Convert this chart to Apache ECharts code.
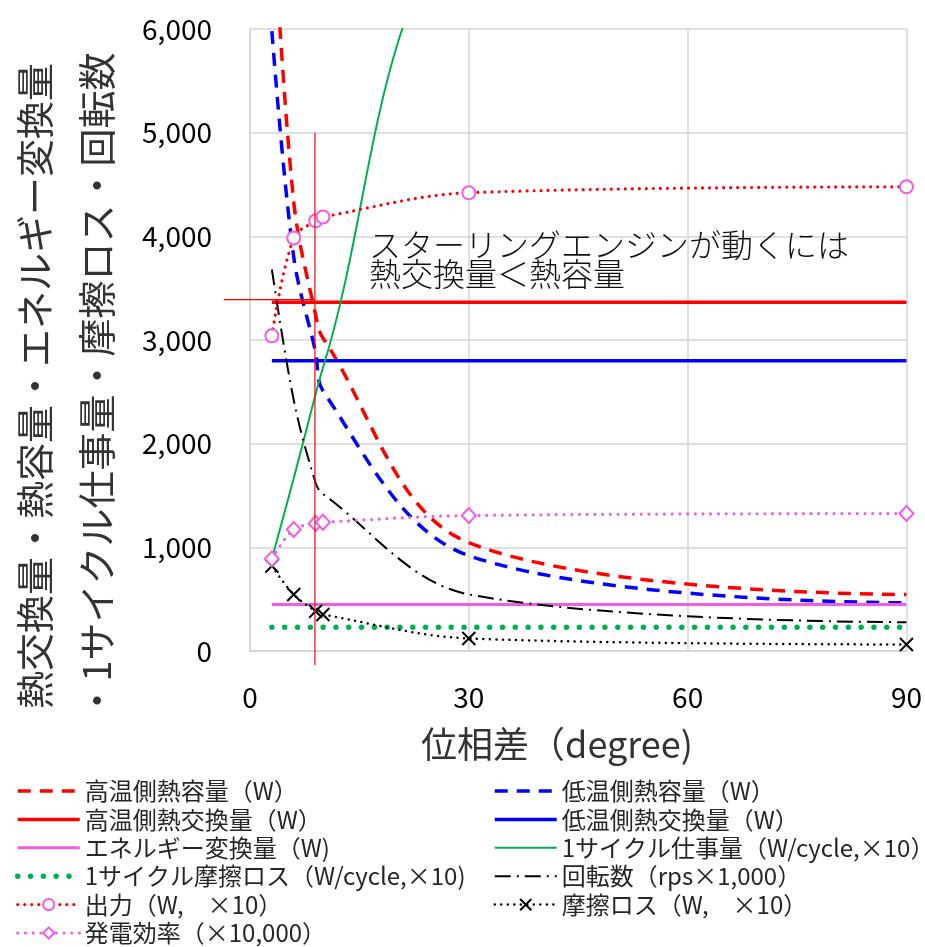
<!DOCTYPE html>
<html><head><meta charset="utf-8">
<script src="https://cdn.jsdelivr.net/npm/echarts@6/dist/echarts.min.js"></script>
<style>html,body{margin:0;padding:0;background:#fff}#c{width:925px;height:947px}</style>
</head><body><div id="c"></div>
<script>
// ---- data ----
const phaseDeg = [3, 6, 9, 10, 30, 90];
const highCapacity = [7300, 4330, 3240, 3020, 1045, 545];
const lowCapacity = [5980, 3800, 2880, 2510, 920, 465];
const highExchange = [3365, 3365, 3365, 3365, 3365, 3365];
const lowExchange = [2800, 2800, 2800, 2800, 2800, 2800];
const energyConv = [448, 448, 448, 448, 448, 448];
const workPerCycle = [889, 1666, 2478, 2731, 7250, 10000];
const frictionPerCycle = [230, 230, 230, 230, 230, 230];
const rotation = [3680, 2420, 1620, 1515, 546, 278];
const outputPower = [3040, 3985, 4150, 4187, 4420, 4478];
const frictionLoss = [820, 545, 384, 352, 121, 63];
const efficiency = [889, 1172, 1230, 1242, 1307, 1326];
// guide lines
const guideVX = [8.9, 8.9];
const guideVY = [-135, 5000];
const guideHX = [-3.6, 8.9];
const guideHY = [3390, 3390];
const xTicks = [0, 30, 60, 90];
const yTicks = [0, 1000, 2000, 3000, 4000, 5000, 6000];

const names = {
  hc: '高温側熱容量（W）', lc: '低温側熱容量（W）',
  he: '高温側熱交換量（W）', le: '低温側熱交換量（W）',
  ec: 'エネルギー変換量（W)', wk: '1サイクル仕事量（W/cycle,×10）',
  fc: '1サイクル摩擦ロス（W/cycle,×10)', rt: '回転数（rps×1,000）',
  op: '出力（W,　×10）', fl: '摩擦ロス（W,　×10）',
  ef: '発電効率（×10,000）'
};

const zip = (xs, ys) => xs.map((x, i) => [x, ys[i]]);
const FONT = '"Noto Sans CJK JP", "Noto Sans", sans-serif';
const PINK = '#F15CE0';
const SM = 0.35;
const HIDE = { color: 'rgba(0,0,0,0)', borderColor: 'rgba(0,0,0,0)', borderWidth: 0 };

const styles = {};
function line(key, ys, color, width, type, extra) {
  const ls = { color, width, type, cap: (Array.isArray(type) && type[0] < 1) ? 'round' : 'butt' };
  styles[key] = ls;
  return Object.assign({
    name: names[key], type: 'line', data: zip(phaseDeg, ys), smooth: SM,
    symbol: 'none', lineStyle: ls,
    itemStyle: { color }, z: 3, animation: false
  }, extra || {});
}

const markerStyle = {
  op: { color: '#FFFFFF', borderColor: PINK, borderWidth: 2 },
  fl: { color: 'rgba(0,0,0,0)', borderColor: '#000000', borderWidth: 2 },
  ef: { color: '#FFFFFF', borderColor: PINK, borderWidth: 2 }
};

const series = [
  line('hc', highCapacity, '#FF0000', 3.5, [13, 9]),
  line('lc', lowCapacity, '#0000FF', 3.5, [13, 9]),
  line('he', highExchange, '#FF0000', 3.5, 'solid', { smooth: false }),
  line('le', lowExchange, '#0000FF', 3.5, 'solid', { smooth: false }),
  line('ec', energyConv, PINK, 3, 'solid', { smooth: false }),
  line('wk', workPerCycle, '#00B050', 2, 'solid'),
  line('fc', frictionPerCycle, '#00B050', 5.5, [0.01, 12.8], { smooth: false }),
  line('rt', rotation, '#000000', 2, [16, 6, 2, 6]),
  line('op', outputPower, '#FF0000', 3.2, [0.01, 7], {
    symbol: 'circle', symbolSize: 13, showSymbol: true, itemStyle: markerStyle.op, z: 5 }),
  line('fl', frictionLoss, '#000000', 2.5, [0.01, 6.5], {
    symbol: 'path://M0,0L10,10M10,0L0,10', symbolSize: 13, showSymbol: true, itemStyle: markerStyle.fl, z: 5 }),
  line('ef', efficiency, PINK, 3.2, [0.01, 7.7], {
    symbol: 'diamond', symbolSize: [14, 15], showSymbol: true, itemStyle: markerStyle.ef, z: 5 }),
  { type: 'line', data: zip(guideVX, guideVY), symbol: 'none', clip: false, silent: true,
    lineStyle: { color: '#FF0000', width: 1.2 }, z: 6, animation: false }
];

function legendItem(key) {
  return { name: names[key], lineStyle: Object.assign({}, styles[key]),
    itemStyle: markerStyle[key] || HIDE };
}
const legendText = { fontFamily: FONT, fontSize: 24, color: '#262626', lineHeight: 24 };
const legendBase = { orient: 'vertical', top: 779, height: 200, padding: 0, itemWidth: 62, itemHeight: 14,
  itemGap: 4.4, textStyle: legendText, selectedMode: false };

const option = {
  backgroundColor: '#fff',
  animation: false,
  grid: { left: 250, right: 14, top: 29, bottom: 296, containLabel: false },
  xAxis: {
    type: 'value', min: 0, max: 90, interval: 30,
    axisLine: { show: true, onZero: false, lineStyle: { color: '#D4D4D4', width: 1.5 } },
    axisTick: { show: false },
    splitLine: { show: true, lineStyle: { color: '#D4D4D4', width: 1.5 } },
    axisLabel: { fontFamily: FONT, fontSize: 28, color: '#000', margin: 32,
      formatter: v => xTicks.includes(v) ? String(v) : '' }
  },
  yAxis: {
    type: 'value', min: 0, max: 6000, interval: 1000,
    axisLine: { show: true, lineStyle: { color: '#D4D4D4', width: 1.5 } },
    axisTick: { show: false },
    splitLine: { show: true, lineStyle: { color: '#D4D4D4', width: 1.5 } },
    axisLabel: { fontFamily: FONT, fontSize: 28, color: '#000', margin: 38,
      formatter: v => yTicks.includes(v) ? v.toLocaleString('en-US') : '' }
  },
  legend: [
    Object.assign({ left: 15, data: ['hc', 'he', 'ec', 'fc', 'op', 'ef'].map(legendItem) }, legendBase),
    Object.assign({ left: 493, data: ['lc', 'le', 'wk', 'rt', 'fl'].map(legendItem) }, legendBase)
  ],
  series
};
const chart = echarts.init(document.getElementById('c'), null, { renderer: 'canvas' });
chart.setOption(option);

// annotations; the horizontal guide is placed through the chart's own scales
const h0 = chart.convertToPixel({ gridIndex: 0 }, [guideHX[0], guideHY[0]]);
const h1 = chart.convertToPixel({ gridIndex: 0 }, [guideHX[1], guideHY[1]]);
chart.setOption({
  graphic: [
    { type: 'line', z: 20, shape: { x1: h0[0], y1: h0[1], x2: h1[0], y2: h1[1] },
      style: { stroke: '#FF0000', lineWidth: 1.2 } },
    { type: 'text', x: 35, y: 386, rotation: Math.PI / 2,
      style: { text: '熱交換量・熱容量・エネルギー変換量', font: '38px ' + FONT, fill: '#333333',
        textAlign: 'center', textVerticalAlign: 'middle' } },
    { type: 'text', x: 97, y: 386, rotation: Math.PI / 2,
      style: { text: '・1サイクル仕事量・摩擦ロス・回転数', font: '38px ' + FONT, fill: '#333333',
        textAlign: 'center', textVerticalAlign: 'middle' } },
    { type: 'text', x: 557, y: 744,
      style: { text: '位相差（degree)', font: '36px ' + FONT, fill: '#333333',
        textAlign: 'center', textVerticalAlign: 'middle' } },
    { type: 'text', x: 369, y: 230, z: 10,
      style: { text: 'スターリングエンジンが動くには\n熱交換量＜熱容量', font: '300 32px ' + FONT,
        fill: '#111111', lineHeight: 29, textAlign: 'left', textVerticalAlign: 'top' } }
  ]
});
</script></body></html>
